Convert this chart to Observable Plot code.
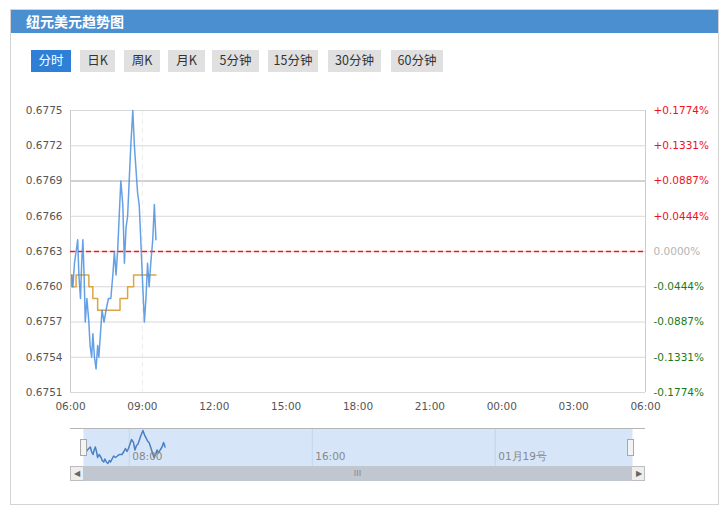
<!DOCTYPE html>
<html><head><meta charset="utf-8">
<script src="https://cdn.jsdelivr.net/npm/d3@7"></script>
<script src="https://cdn.jsdelivr.net/npm/@observablehq/plot@0.6"></script>
<style>
body{margin:0;background:#fff;}
#wrap{position:relative;width:728px;height:512px;overflow:hidden;font-family:"Noto Sans CJK SC",sans-serif;}
#panel{position:absolute;left:10px;top:9px;width:707px;height:494px;border:1px solid #d4d4d4;}
#hdr{position:absolute;left:11px;top:10px;width:707px;height:23px;background:#4b8fd0;color:#fff;font:bold 14px "Noto Sans CJK SC";line-height:23px;padding-left:15px;box-sizing:border-box}
.btn{position:absolute;top:50px;height:22px;line-height:22px;background:#e0e0e0;color:#333;font:12.5px "Noto Sans CJK SC";text-align:center}
.btn.on{background:#2f7fd6;color:#fff}
#chart{position:absolute;left:0;top:90px}
#nav{position:absolute;left:0;top:428px}
.abs{position:absolute;box-sizing:border-box}
</style></head>
<body><div id="wrap">
<div id="panel"></div>
<div id="hdr">纽元美元趋势图</div>
<div id="btns"></div>
<div id="chart"></div>
<div id="nav"></div>
<div class="abs" style="left:70px;top:428px;width:575px;height:1px;background:#b5b5b5"></div>
<div class="abs" style="left:80px;top:439px;width:7px;height:17px;background:#f3f3f3;border:1px solid #a8a8a8"></div>
<div class="abs" style="left:627px;top:439px;width:7px;height:17px;background:#f3f3f3;border:1px solid #a8a8a8"></div>
<div class="abs" style="left:70px;top:466px;width:575px;height:15px;background:#eee;border:1px solid #bdbdbd"></div>
<div class="abs" style="left:83px;top:466px;width:549px;height:15px;background:#c0c7d0;color:#888;font:9px sans-serif;text-align:center;line-height:15px">III</div>
<div class="abs" style="left:70px;top:466px;width:13px;height:15px;color:#666;font:8px sans-serif;text-align:center;line-height:15px">◀</div>
<div class="abs" style="left:632px;top:466px;width:13px;height:15px;color:#666;font:8px sans-serif;text-align:center;line-height:15px">▶</div>
</div>
<script>
// ---- data ----
const buttonLabels = ["分时","日K","周K","月K","5分钟","15分钟","30分钟","60分钟"];
const yTicks = [0.6751,0.6754,0.6757,0.6760,0.6763,0.6766,0.6769,0.6772,0.6775];
const pctLabels = ["-0.1774%","-0.1331%","-0.0887%","-0.0444%","0.0000%","+0.0444%","+0.0887%","+0.1331%","+0.1774%"];
const baseValue = 0.6763;
const xTickHours = [0,3,6,9,12,15,18,21,24];           // hours after 06:00
const navTickHours = [2,10,18];                       // 08:00, 16:00, 00:00
const navLabels = ["08:00","16:00","01月19号"];
// blue price line: minutes after 06:00 and price
const blueMin = [3,4,6,10,14,18,21,25,28,31,34,37,41,46,49,53,56,60,64,68,71,75,79,84,89,95,101,106,110,114,118,122,126,131,135,139,143,147,151,156,160,164,168,172,176,181,185,189,193,197,201,206,210,214];
const blueVal = [0.6761,0.6760,0.6760,0.6762,0.6763,0.6764,0.6761,0.6759,0.6762,0.6764,0.6761,0.6757,0.6759,0.6757,0.6755,0.6754,0.6756,0.6754,0.6753,0.6755,0.6754,0.6756,0.6758,0.6757,0.6758,0.6759,0.6759,0.6761,0.6763,0.6761,0.6763,0.6766,0.6769,0.6767,0.6762,0.6765,0.6766,0.6769,0.6772,0.6775,0.6772,0.6770,0.6768,0.6767,0.6764,0.6760,0.6757,0.6759,0.6762,0.6760,0.6762,0.6764,0.6767,0.6764];
// orange average (step) line
const avgMin = [3,4,14,46,56,68,124,143,158,214];
const avgVal = [0.6761,0.6760,0.6761,0.6760,0.6759,0.6758,0.6759,0.6760,0.6761,0.6761];

// ---- buttons ----
const btnLeft = [31,80,124,168,212,268,328,391];
const btnWidth = [40,35,36,37,47,50,53,52];
const btns = document.getElementById("btns");
buttonLabels.forEach((s,i)=>{
  const d=document.createElement("div");
  d.className="btn"+(i===0?" on":"");
  d.style.left=btnLeft[i]+"px"; d.style.width=btnWidth[i]+"px";
  d.textContent=s; btns.appendChild(d);
});

const base = new Date(2018,0,18,6,0);
const tMin = m => new Date(base.getTime()+m*60000);
const tH = h => tMin(h*60);
const t0 = tH(0), t1 = tH(24);
const blue = blueMin.map((m,i)=>({t:tMin(m), v:blueVal[i]}));
const avg = avgMin.map((m,i)=>({t:tMin(m), v:avgVal[i]}));
const xTicks = xTickHours.map(tH);
const font = "DejaVu Sans, sans-serif";

const chart = Plot.plot({
  width:728, height:332,
  marginLeft:70, marginRight:83, marginTop:20, marginBottom:30,
  style:{fontFamily:font, fontSize:"10.5px", background:"transparent"},
  x:{type:"time", domain:[t0,t1], label:null},
  y:{domain:[0.6751,0.6775], label:null},
  marks:[
    Plot.gridX(xTicks.slice(1,2), {stroke:"#ececec", strokeOpacity:1, strokeDasharray:"5,4"}),
    Plot.gridY(yTicks, {stroke:"#d8d8d8", strokeOpacity:1}),
    Plot.ruleY([0.6769], {stroke:"#d2d2d2", strokeWidth:2}),
    Plot.ruleX([t0,t1], {stroke:"#cccccc"}),
    Plot.ruleY([baseValue], {stroke:"#ff1010", strokeWidth:1.3, strokeDasharray:"5,3"}),
    Plot.line(avg, {x:"t", y:"v", curve:"step-after", stroke:"#dba544", strokeWidth:1.5}),
    Plot.line(blue, {x:"t", y:"v", stroke:"#4a8fe0", strokeWidth:1.5, strokeOpacity:0.85}),
    Plot.axisY(yTicks, {anchor:"left", tickSize:0, tickPadding:8, tickFormat:d=>d.toFixed(4), color:"#555", fontSize:10.5}),
    Plot.axisY(yTicks.filter(d=>d>baseValue+1e-9), {anchor:"right", tickSize:0, tickPadding:8, tickFormat:d=>pctLabels[yTicks.indexOf(d)], color:"#ee1122", fontSize:10.5}),
    Plot.axisY([baseValue], {anchor:"right", tickSize:0, tickPadding:8, tickFormat:d=>pctLabels[4], color:"#b4b4b4", fontSize:10.5}),
    Plot.axisY(yTicks.filter(d=>d<baseValue-1e-9), {anchor:"right", tickSize:0, tickPadding:8, tickFormat:d=>pctLabels[yTicks.indexOf(d)], color:"#1a7a1a", fontSize:10.5}),
    Plot.axisX(xTicks, {tickSize:0, tickPadding:10, tickFormat:d3.timeFormat("%H:%M"), color:"#555", fontSize:10.5})
  ]
});
document.getElementById("chart").appendChild(chart);

const navTicks = navTickHours.map(tH);
const nav = Plot.plot({
  width:728, height:38,
  marginLeft:83, marginRight:96, marginTop:0, marginBottom:0,
  style:{fontFamily:font, fontSize:"10.5px", background:"transparent"},
  x:{type:"time", domain:[t0,t1], axis:null},
  y:{domain:[0.6751,0.67763], axis:null},
  marks:[
    Plot.frame({fill:"#d6e6f8", stroke:null}),
    Plot.ruleX(navTicks, {stroke:"#c2d5ec"}),
    Plot.line(blue, {x:"t", y:"v", stroke:"#4a7fc2", strokeWidth:1.5}),
    Plot.text(navTicks, {x:d=>d, text:(d,i)=>navLabels[i], frameAnchor:"bottom", textAnchor:"start", dx:3, dy:-7, fill:"#888", fontSize:10.5})
  ]
});
document.getElementById("nav").appendChild(nav);
</script>
</body></html>
